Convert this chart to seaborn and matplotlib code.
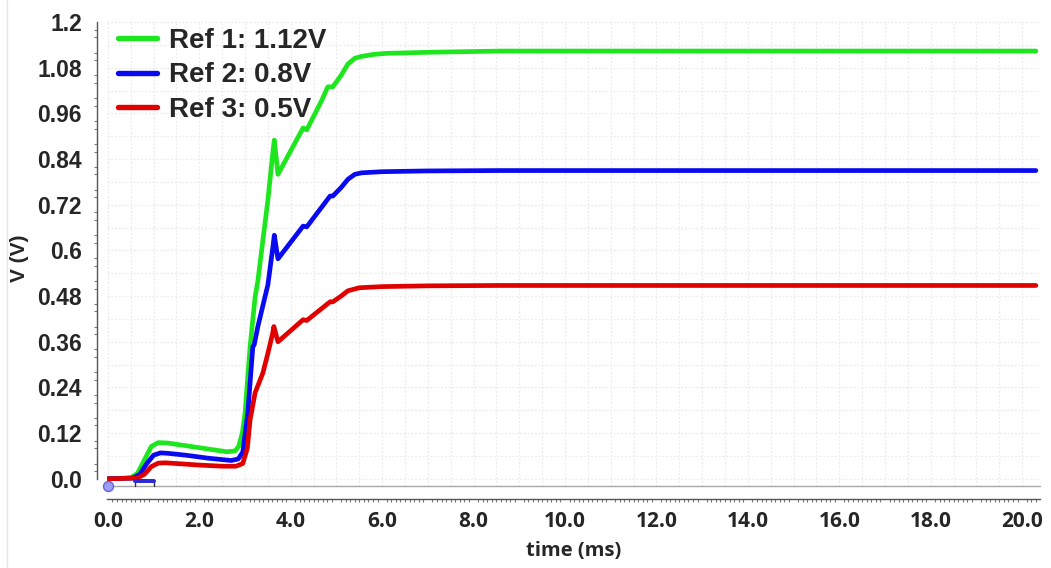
import numpy as np
import pandas as pd
import matplotlib
matplotlib.use("Agg")
import matplotlib.pyplot as plt
from matplotlib.lines import Line2D
from matplotlib.ticker import FixedLocator, MultipleLocator
import seaborn as sns

# ---------------- data ----------------
series_labels = ["Ref 1: 1.12V", "Ref 2: 0.8V", "Ref 3: 0.5V"]
series_colors = ["#1ee61e", "#0a0af0", "#e00000"]

t_ref1 = [0, 0.5, 0.65, 0.8, 0.95, 1.1, 1.3, 1.7, 2.2, 2.6, 2.78, 2.86, 2.94, 3.0,
          3.11, 3.22, 3.28, 3.5, 3.61, 3.64, 3.72, 4.27, 4.35, 4.68, 4.81, 4.92,
          5.1, 5.25, 5.4, 5.55, 5.8, 6.1, 7.1, 8.6, 20.3]
v_ref1 = [0, 0.002, 0.015, 0.05, 0.085, 0.095, 0.094, 0.087, 0.078, 0.071, 0.073,
          0.085, 0.12, 0.173, 0.347, 0.478, 0.52, 0.733, 0.86, 0.89, 0.80, 0.922,
          0.917, 0.995, 1.03, 1.03, 1.06, 1.09, 1.105, 1.11, 1.115, 1.118, 1.121,
          1.124, 1.124]

t_ref2 = [0, 0.55, 0.7, 0.85, 1.0, 1.15, 1.3, 1.7, 2.2, 2.7, 2.85, 2.95, 3.06,
          3.17, 3.2, 3.28, 3.5, 3.61, 3.64, 3.72, 4.27, 4.35, 4.86, 4.92, 5.1,
          5.25, 5.4, 5.55, 6.0, 7.0, 8.6, 20.3]
v_ref2 = [0, 0.002, 0.012, 0.04, 0.062, 0.068, 0.067, 0.062, 0.054, 0.048, 0.052,
          0.07, 0.173, 0.347, 0.352, 0.40, 0.51, 0.61, 0.64, 0.578, 0.664, 0.662,
          0.743, 0.743, 0.765, 0.787, 0.80, 0.804, 0.807, 0.809, 0.81, 0.81]

t_ref3 = [0, 0.65, 0.8, 0.95, 1.1, 1.25, 1.5, 2.0, 2.5, 2.8, 2.95, 3.05, 3.11,
          3.22, 3.39, 3.5, 3.6, 3.63, 3.72, 4.27, 4.35, 4.86, 4.92, 5.1, 5.25,
          5.5, 6.0, 7.0, 8.6, 20.3]
v_ref3 = [0, 0.002, 0.012, 0.032, 0.041, 0.042, 0.04, 0.036, 0.033, 0.033, 0.04,
          0.08, 0.155, 0.226, 0.278, 0.33, 0.38, 0.40, 0.36, 0.418, 0.416, 0.465,
          0.465, 0.48, 0.494, 0.502, 0.505, 0.507, 0.508, 0.508]

x_tick_values = [0, 2, 4, 6, 8, 10, 12, 14, 16, 18, 20]
x_tick_labels = ["0.0", "2.0", "4.0", "6.0", "8.0", "10.0", "12.0", "14.0",
                 "16.0", "18.0", "20.0"]
y_tick_values = [0.0, 0.12, 0.24, 0.36, 0.48, 0.6, 0.72, 0.84, 0.96, 1.08, 1.2]
y_tick_labels = ["0.0", "0.12", "0.24", "0.36", "0.48", "0.6", "0.72", "0.84",
                 "0.96", "1.08", "1.2"]

frames = []
for lab, t, v in zip(series_labels, [t_ref1, t_ref2, t_ref3],
                     [v_ref1, v_ref2, v_ref3]):
    frames.append(pd.DataFrame({"time": t, "V": v, "series": lab}))
df = pd.concat(frames, ignore_index=True)

# ---------------- figure ----------------
sns.set_theme(style="white")
plt.rcParams["font.family"] = ["Liberation Sans", "DejaVu Sans"]

PX = 0.72  # points per pixel at 100 dpi
W, H = 1051, 568
fig = plt.figure(figsize=(W / 100, H / 100), dpi=100)
fig.patch.set_facecolor("white")
ax_left, ax_right, ax_top, ax_bot = 107, 1040, 21, 486
ax = fig.add_axes([ax_left / W, 1 - ax_bot / H, (ax_right - ax_left) / W,
                   (ax_bot - ax_top) / H])
axw, axh = ax_right - ax_left, ax_bot - ax_top

XMIN, XMAX = -0.02, 20.39
YMIN, YMAX = -0.019, 1.203
ax.set_xlim(XMIN, XMAX)
ax.set_ylim(YMIN, YMAX)

# grid (very light dotted)
for gx in np.arange(0, 20.01, 0.5):
    ax.axvline(gx, color="#ebebeb", lw=0.9, ls=(0, (1.5, 1.5)), zorder=0)
for gy in np.arange(0, 1.201, 0.06):
    ax.axhline(gy, color="#ebebeb", lw=0.9, ls=(0, (1.5, 1.5)), zorder=0)

sns.lineplot(data=df, x="time", y="V", hue="series",
             palette=dict(zip(series_labels, series_colors)),
             linewidth=4.7 * PX, sort=False, estimator=None, ax=ax, legend=True,
             zorder=3)

# legend
handles, labels = ax.get_legend_handles_labels()
for h in handles:
    h.set_linewidth(5.4 * PX)
ax.legend(handles, labels, loc="upper left",
          bbox_to_anchor=((118 - ax_left) / axw, 1 - 7 / axh),
          frameon=False, borderpad=0, borderaxespad=0,
          prop={"family": "Liberation Sans", "weight": "bold", "size": 20},
          handlelength=1.4, handletextpad=0.45, labelspacing=0.3)

# axis labels
ax.set_xlabel("time (ms)", fontsize=14.5, fontweight="bold",
              family=["Open Sans", "DejaVu Sans"], labelpad=0)
ax.xaxis.set_label_coords(0.5, -(541 - ax_bot) / axh)
ax.set_ylabel("V (V)", fontsize=15, fontweight="bold")
ax.yaxis.set_label_coords(-(ax_left - 29) / axw, 0.49)

# spines / ruler axes
for s in ["top", "right"]:
    ax.spines[s].set_visible(False)
ax.spines["left"].set_position(("outward", 10 * PX))
ax.spines["left"].set_bounds(0, 1.2)
ax.spines["left"].set_color("#555555")
ax.spines["left"].set_linewidth(1.0)
ax.spines["bottom"].set_position(("outward", 13 * PX))
ax.spines["bottom"].set_color("#555555")
ax.spines["bottom"].set_linewidth(1.0)

# x ticks
x_major = list(range(0, 21))
ax.xaxis.set_major_locator(FixedLocator(x_major))
ax.set_xticklabels([x_tick_labels[x_tick_values.index(v)] if v in x_tick_values
                    else "" for v in x_major])
ax.xaxis.set_minor_locator(MultipleLocator(0.1))
ax.tick_params(axis="x", which="major", direction="out", length=7 * PX, width=1,
               color="#555555", pad=5 * PX, labelsize=15)
ax.tick_params(axis="x", which="minor", direction="out", length=3 * PX, width=0.8,
               color="#777777", bottom=True)
for lbl in ax.get_xticklabels():
    lbl.set_fontweight("bold")
    lbl.set_family(["Open Sans", "DejaVu Sans"])

# y ticks
y_major = [round(v, 2) for v in np.arange(0, 1.2001, 0.06)]
ax.yaxis.set_major_locator(FixedLocator(y_major))
ylabels = []
for v in y_major:
    match = [l for tv, l in zip(y_tick_values, y_tick_labels) if abs(tv - v) < 1e-6]
    ylabels.append(match[0] if match else "")
ax.set_yticklabels(ylabels)
ax.yaxis.set_minor_locator(MultipleLocator(0.02))
ax.tick_params(axis="y", which="major", direction="out", length=6 * PX, width=1,
               color="#555555", pad=9 * PX, labelsize=16.5)
ax.tick_params(axis="y", which="minor", direction="out", length=3 * PX, width=0.8,
               color="#777777", left=True)
for lbl in ax.get_yticklabels():
    lbl.set_fontweight("bold")

# bottom edge line of the plot area
ax.plot([0, 1], [0, 0], transform=ax.transAxes, color="#a8a8a8", lw=1.0,
        clip_on=False, zorder=2)

# viewer markers (origin circle and interval bar)
ax.plot([0], [YMIN], marker="o", ms=10 * PX, mfc="#9a9cf5", mec="#6466e0", mew=1,
        clip_on=False, zorder=5)
for xe in [0.6, 1.0]:
    ax.plot([xe, xe], [-0.006, YMIN], color="#333333", lw=1, clip_on=False,
            zorder=4)
ax.plot([0.6, 1.0], [-0.006, -0.006], color="#2a2ad8", lw=4 * PX,
        solid_capstyle="round", clip_on=False, zorder=5)

# faint screenshot edge on the left
fig.add_artist(Line2D([7 / W, 7 / W], [0, 1], color="#e6e6e6", lw=1))

fig.savefig("out.png", dpi=100, facecolor="white")
